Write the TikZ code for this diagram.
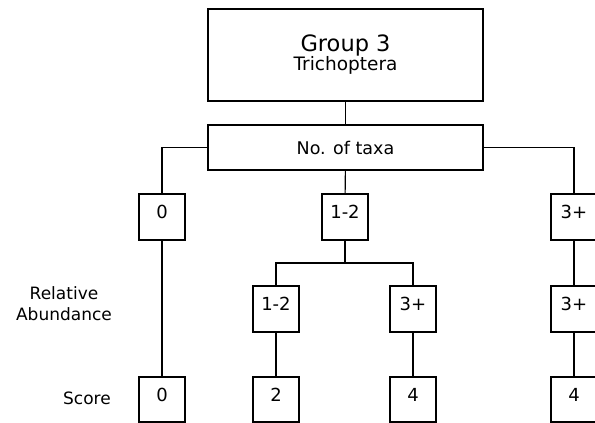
\documentclass[tikz,border=0pt]{standalone}
\usepackage{fontspec}
\setmainfont{DejaVu Sans}
\tikzset{
  bigbox/.style={draw, line width=1.1pt, inner sep=0pt, minimum width=275pt},
  numbox/.style={draw, line width=1.1pt, inner sep=0pt, minimum width=46pt, minimum height=46pt, text depth=10pt, font=\fontsize{18}{21}\selectfont},
  label/.style={font=\fontsize{17}{21}\selectfont, align=center},
  link/.style={draw, line width=1.1pt}
}
\begin{document}
\begin{tikzpicture}[x=1pt, y=-1pt, every node/.style={font=\fontsize{17.5}{21}\selectfont}]
\useasboundingbox (0,0) rectangle (595,423);
\node[bigbox, minimum height=92pt, align=center] (group) at (345.5,55) {{\fontsize{22.5}{26}\selectfont Group 3}\\[-2pt]{\fontsize{18.5}{22}\selectfont Trichoptera}};
\node[bigbox, minimum height=45pt] (taxa) at (345.5,147.5) {No. of taxa};

% number of taxa
\node[numbox] (t0) at (162,217) {0};
\node[numbox] (t12) at (345,217) {1-2};
\node[numbox] (t3) at (574,217) {3+};

% relative abundance
\node[numbox] (a12) at (276,309) {1-2};
\node[numbox] (a3) at (413,309) {3+};
\node[numbox] (a3r) at (574,309) {3+};

% score
\node[numbox, minimum height=45pt] (s0) at (162,399.5) {0};
\node[numbox, minimum height=45pt] (s2) at (276,399.5) {2};
\node[numbox, minimum height=45pt] (s4) at (413,399.5) {4};
\node[numbox, minimum height=45pt] (s4r) at (574,399.5) {4};

\node[label] (rel) at (64,304) {Relative\\Abundance};
\node[label] (score) at (87,398) {Score};

\coordinate (split) at (345,263);

\path[link] (group) -- (taxa);
\path[link] (taxa.west) -| (t0.north);
\path[link] (taxa.east) -| (t3.north);
\path[link] (taxa) -- (t12);
\path[link] (t12.south) -- (split);
\path[link] (split) -| (a12.north);
\path[link] (split) -| (a3.north);
\path[link] (t0) -- (s0);
\path[link] (a12) -- (s2);
\path[link] (a3) -- (s4);
\path[link] (t3) -- (a3r);
\path[link] (a3r) -- (s4r);
\end{tikzpicture}
\end{document}
